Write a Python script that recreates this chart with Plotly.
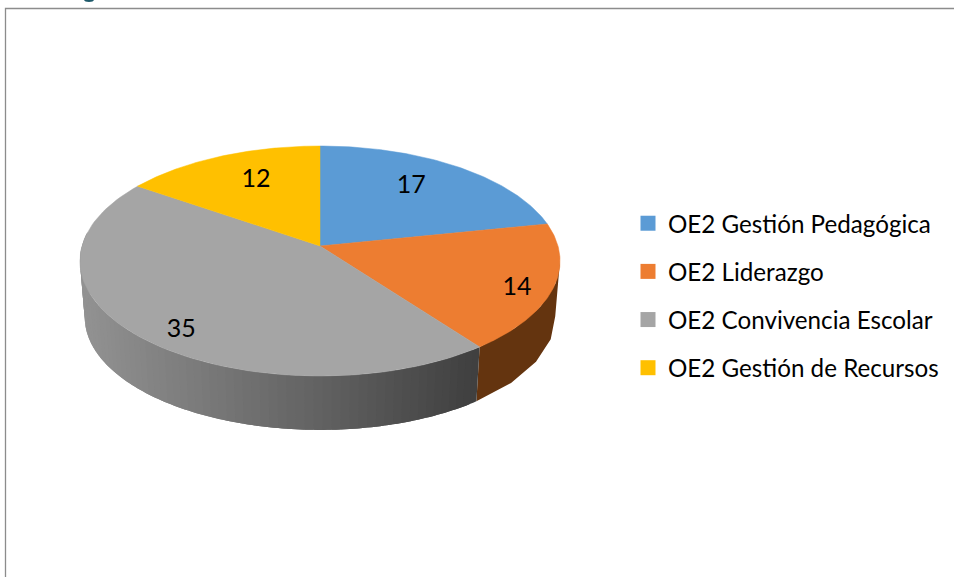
import numpy as np
import plotly.graph_objects as go

categories = ["OE2 Gestión Pedagógica", "OE2 Liderazgo", "OE2 Convivencia Escolar", "OE2 Gestión de Recursos"]
values = [17, 14, 35, 12]
colors = ["#5B9BD5", "#ED7D31", "#A5A5A5", "#FFC000"]
FONT = "Lato"

# Projection of the tilted disc onto the page (pixels)
APEX_X, APEX_Y = 320.0, 246.0
K, P, Q = 0.1304, 113.04, 238.0
DEPTH, BASE_SCALE = 56.5, 0.98
LABEL_R = [0.645, 0.85, 0.78, 0.62]
LABEL_STRETCH = [1.11, 1.2, 1.23, 1.13]


def project(theta, r=1.0, drop=0.0, scale=1.0, stretch=1.0):
    sx, sy = r * np.sin(theta), r * np.cos(theta)
    den = 1 + K * sy
    return APEX_X + scale * Q * sx / den, APEX_Y + drop - stretch * scale * P * sy / den


total = sum(values)
edges = np.cumsum([0] + values) / total * 2 * np.pi
fig = go.Figure()

# Side wall, back to front: orange then the shaded grey slice
LEFT, RIGHT = np.radians(277), np.radians(97)


def strips(a0, a1, colour_fn, n):
    ts = np.linspace(a0, a1, n + 1)
    step = ts[1] - ts[0]
    for t0, t1 in zip(ts[:-1], ts[1:]):
        # each strip runs on under the next one, so no seam shows between them
        end = min(t1 + step, a1)
        t = np.linspace(t0, end, 5)
        xt, yt = project(t)
        xb, yb = project(t[::-1], drop=DEPTH, scale=BASE_SCALE)
        c = colour_fn(project((t0 + t1) / 2)[0])
        fig.add_trace(go.Scatter(x=np.r_[xt, xb], y=np.r_[yt, yb], mode="none", fill="toself",
                                 fillcolor=c, hoverinfo="skip", showlegend=False))


def grey_at(x):
    v = int(np.interp(x, [84, 330, 475], [0x92, 0x60, 0x40]))
    return f"rgb({v},{v},{v})"


strips(RIGHT, edges[2], lambda x: "#64340F", 1)
strips(edges[2], LEFT, grey_at, 70)

# Top faces
for i, (name, col) in enumerate(zip(categories, colors)):
    t = np.linspace(edges[i], edges[i + 1], 90)
    x, y = project(t)
    fig.add_trace(go.Scatter(x=np.r_[APEX_X, x, APEX_X], y=np.r_[APEX_Y, y, APEX_Y], mode="lines",
                             fill="toself", fillcolor=col, line=dict(color=col, width=0.5),
                             name=name, hoverinfo="name", showlegend=False))

# Data labels
mids = (edges[:-1] + edges[1:]) / 2
lx, ly = zip(*[project(m, r=r, stretch=s) for m, r, s in zip(mids, LABEL_R, LABEL_STRETCH)])
fig.add_trace(go.Scatter(x=lx, y=ly, mode="text", text=[str(v) for v in values],
                         textposition="middle center",
                         textfont=dict(family=FONT, size=25, color="#000000"),
                         hoverinfo="skip", showlegend=False))

# Legend entries
for name, col in zip(categories, colors):
    fig.add_trace(go.Scatter(x=[None], y=[None], mode="markers", name=name, legendgroup=name,
                             marker=dict(symbol="square", size=15, color=col)))

fig.update_layout(
    width=954, height=577, margin=dict(l=0, r=0, t=0, b=0),
    paper_bgcolor="white", plot_bgcolor="white",
    xaxis=dict(range=[0, 954], visible=False, fixedrange=True),
    yaxis=dict(range=[577, 0], visible=False, fixedrange=True),
    legend=dict(x=628 / 954, y=1 - 201 / 577, xanchor="left", yanchor="top",
                font=dict(family=FONT, size=24.2, color="#000000"),
                tracegroupgap=13.7, bgcolor="rgba(0,0,0,0)"),
    shapes=[
        dict(type="path", xref="x", yref="y", path="M 5.5 577 L 5.5 8.5 L 954 8.5",
             line=dict(color="#8C8C8C", width=1.3)),
        # the only trace of the heading cropped off above the chart
        dict(type="circle", xref="x", yref="y", x0=84, x1=94, y0=-3, y1=2,
             fillcolor="#1F5A6B", line=dict(width=0)),
    ],
)
fig.write_html("out.html", post_script="document.body.style.margin='0';",
               config={"displayModeBar": False})
